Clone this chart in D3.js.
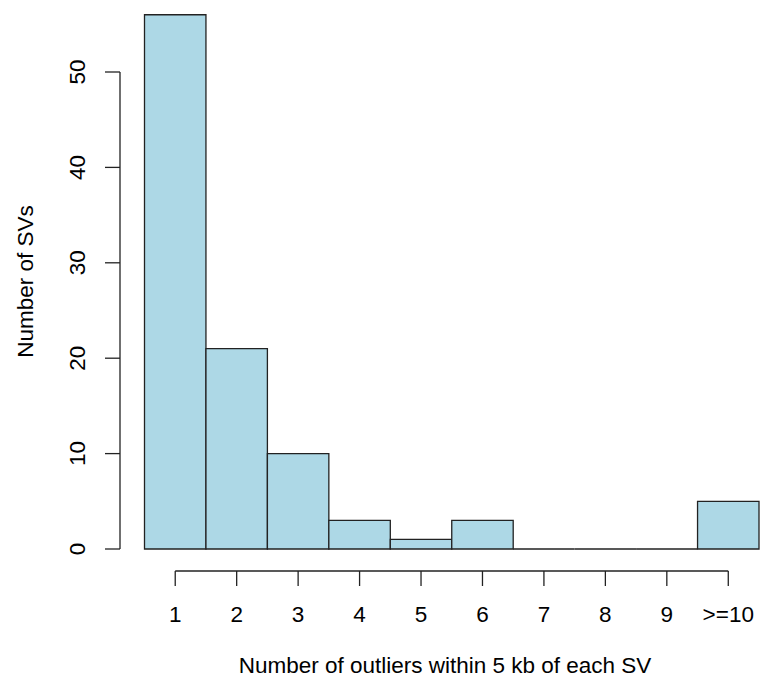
<!DOCTYPE html>
<html>
<head>
<meta charset="utf-8">
<script src="https://cdn.jsdelivr.net/npm/d3@7"></script>
<style>
  body { margin: 0; background: #fff; }
  text { font-family: "Liberation Sans", Arial, Helvetica, sans-serif; }
</style>
</head>
<body>
<div id="chart"></div>
<script>
const width = 762;
const height = 680;

// data
const categories = ['1', '2', '3', '4', '5', '6', '7', '8', '9', '>=10'];
const counts = [56, 21, 10, 3, 1, 3, 0, 0, 0, 5];
const yTicks = [0, 10, 20, 30, 40, 50];

const fontSize = 22.5;

const svg = d3.select('#chart')
    .append('svg')
    .attr('width', width)
    .attr('height', height)
    .attr('viewBox', `0,0,${width},${height}`);

// bar positions (bars touch each other)
const x = d3.scaleBand()
    .domain(categories)
    .range([144.5, 759])
    .padding(0);

const y = d3.scaleLinear()
    .domain([0, 50])
    .range([549, 72]);

// bars (paths so that empty bars still show as a line)
svg.append('g')
    .selectAll('path')
    .data(counts)
    .join('path')
    .attr('d', (d, i) => {
        const p = d3.path();
        p.rect(x(categories[i]), y(d), x.bandwidth(), y(0) - y(d));
        return p.toString();
    })
    .style('fill', '#add8e6')
    .style('stroke', '#222')
    .style('stroke-width', 1.3);

// y axis
const yAxis = svg.append('g')
    .attr('transform', 'translate(120,0)');
yAxis.append('line')
    .attr('y1', y(0))
    .attr('y2', y(50))
    .style('stroke', '#222')
    .style('stroke-width', 1.3);
yAxis.selectAll('line.tick')
    .data(yTicks)
    .join('line')
    .attr('class', 'tick')
    .attr('x1', -15)
    .attr('x2', 0)
    .attr('y1', d => y(d))
    .attr('y2', d => y(d))
    .style('stroke', '#222')
    .style('stroke-width', 1.3);
yAxis.selectAll('text')
    .data(yTicks)
    .join('text')
    .attr('transform', d => `translate(-43,${y(d)}) rotate(-90)`)
    .attr('text-anchor', 'middle')
    .attr('dy', '0.35em')
    .style('font-size', fontSize + 'px')
    .text(d => d);

// x axis
const centers = categories.map(c => x(c) + x.bandwidth() / 2);
const xAxis = svg.append('g')
    .attr('transform', 'translate(0,571)');
xAxis.append('line')
    .attr('x1', centers[0])
    .attr('x2', centers[centers.length - 1])
    .style('stroke', '#222')
    .style('stroke-width', 1.3);
xAxis.selectAll('line.tick')
    .data(centers)
    .join('line')
    .attr('class', 'tick')
    .attr('x1', d => d)
    .attr('x2', d => d)
    .attr('y1', 0)
    .attr('y2', 15)
    .style('stroke', '#222')
    .style('stroke-width', 1.3);
xAxis.selectAll('text')
    .data(categories)
    .join('text')
    .attr('x', (d, i) => centers[i])
    .attr('y', 43)
    .attr('dy', '0.35em')
    .attr('text-anchor', 'middle')
    .style('font-size', fontSize + 'px')
    .text(d => d);

// axis titles
svg.append('text')
    .attr('x', 445)
    .attr('y', 665)
    .attr('dy', '0.35em')
    .attr('text-anchor', 'middle')
    .style('font-size', fontSize + 'px')
    .text('Number of outliers within 5 kb of each SV');

svg.append('text')
    .attr('transform', `translate(25,${(y(0) + 14) / 2}) rotate(-90)`)
    .attr('dy', '0.35em')
    .attr('text-anchor', 'middle')
    .style('font-size', fontSize + 'px')
    .text('Number of SVs');
</script>
</body>
</html>
